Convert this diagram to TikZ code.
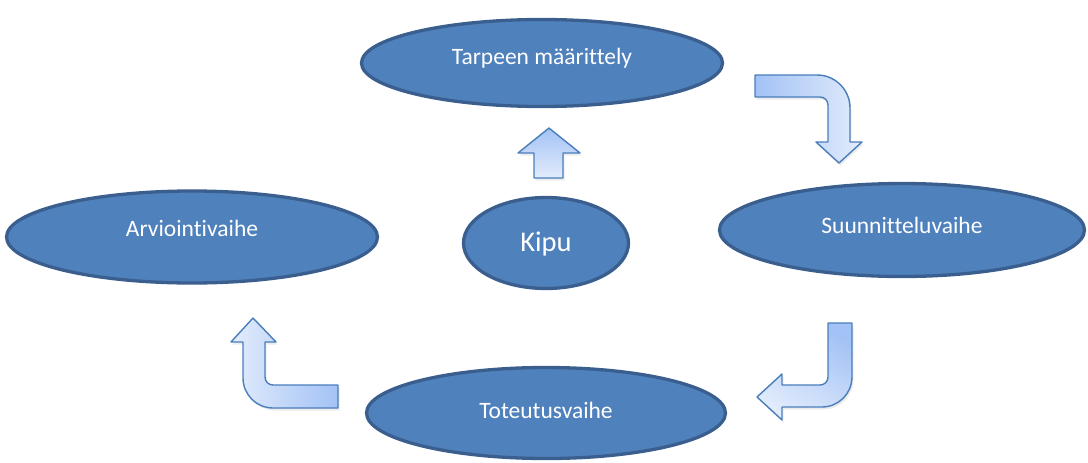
\documentclass[tikz,border=0pt]{standalone}
\usepackage{fontspec}
\setmainfont[Ligatures=CommonOff]{Carlito}
\usetikzlibrary{shapes.geometric,shadows}
\definecolor{vaihefill}{HTML}{4F81BD}
\definecolor{vaihereuna}{HTML}{3A5F8E}
\definecolor{nuolireuna}{HTML}{4A7EBB}
\definecolor{nuolitumma}{HTML}{A3C2F5}
\definecolor{nuolivaalea}{HTML}{E2ECFC}
\tikzset{
	vaihe/.style={ellipse, fill=vaihefill, draw=vaihereuna, line width=3.3pt, text=white, inner sep=0pt, text height=17pt, text depth=5pt, font=\fontsize{23.5}{28}\selectfont},
	nuoli/.style={draw=nuolireuna, line width=1.4pt, line join=round, drop shadow={shadow xshift=1.5pt, shadow yshift=-2.5pt, opacity=0.15}}
}

\begin{document}
\begin{tikzpicture}[x=1pt, y=-1pt]
			%%%%% START %%%%%
			\useasboundingbox (0, 0) rectangle (1088, 463);
			
			\node[vaihe, minimum width=361, minimum height=87, text depth=15pt] (tarve) at (542, 63) {Tarpeen määrittely};
			\node[vaihe, minimum width=371, minimum height=92, text depth=19pt] (arviointi) at (192, 237) {Arviointivaihe};
			\node[vaihe, minimum width=165, minimum height=91, text height=20pt, text depth=3pt, font=\fontsize{28.5}{32}\selectfont] (kipu) at (546, 243) {Kipu};
			\node[vaihe, minimum width=365, minimum height=93, text depth=11pt] (suunnittelu) at (902, 230) {Suunnitteluvaihe};
			\node[vaihe, minimum width=359, minimum height=91, text depth=7pt] (toteutus) at (546, 413) {Toteutusvaihe};
			
			% nuoli ylos
			\shade[nuoli, top color=nuolitumma, bottom color=nuolivaalea] (534, 178) -- (534, 153) -- (518, 153) -- (549, 128) -- (580, 153) -- (563, 153) -- (563, 178) -- cycle;
			
			% oikea yla
			\shade[nuoli, left color=nuolitumma, right color=nuolivaalea] (755, 75) -- (817, 75) arc (-90:0:33) -- (850, 142) -- (862, 142) -- (839, 163) -- (816, 142) -- (828, 142) -- (828, 105) arc (0:-90:8) -- (755, 97) -- cycle;
			
			% oikea ala
			\shade[nuoli, top color=nuolitumma, bottom color=nuolivaalea, shading angle=-30] (828, 323) -- (852, 323) -- (852, 377) arc (0:90:30) -- (782, 407) -- (782, 420) -- (757, 397) -- (782, 374) -- (782, 385) -- (820, 385) arc (90:0:8) -- cycle;
			
			% vasen ala
			\shade[nuoli, left color=nuolivaalea, right color=nuolitumma] (253, 318) -- (276, 342) -- (265, 342) -- (265, 377) arc (180:90:8) -- (338, 385) -- (338, 408) -- (273, 408) arc (90:180:30) -- (243, 342) -- (231, 342) -- cycle;
			
			%%%%% END %%%%%
\end{tikzpicture}
\end{document}
